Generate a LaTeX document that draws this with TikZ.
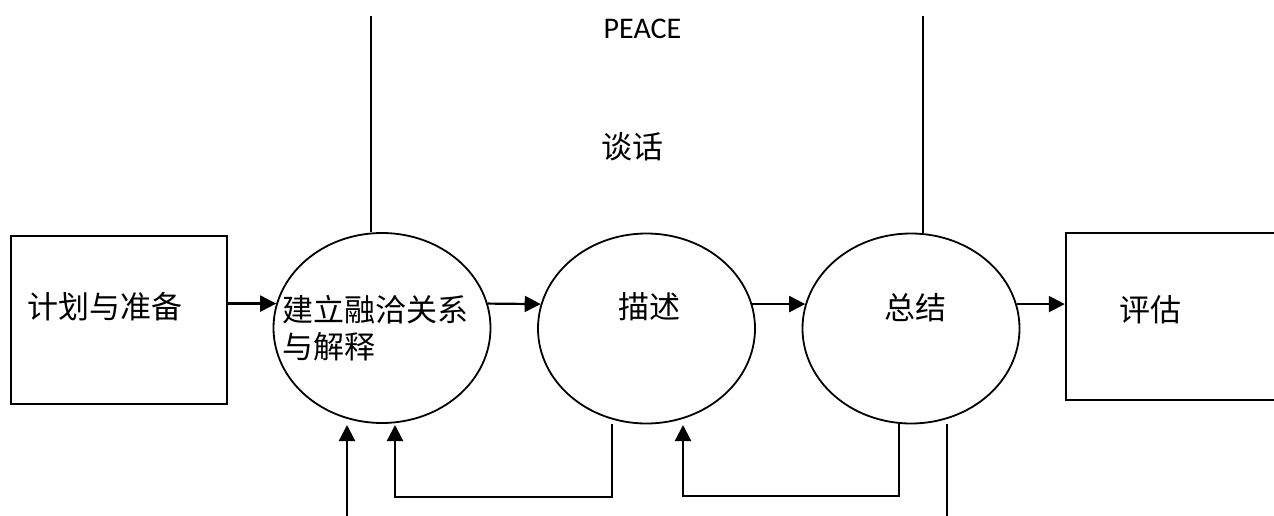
\documentclass[tikz,border=0pt]{standalone}
\usepackage{fontspec}
\setmainfont{Carlito}
\newfontfamily\cjk{Noto Sans CJK SC}
\usetikzlibrary{arrows.meta,shapes.geometric}
\begin{document}
\begin{tikzpicture}[x=1pt,y=-1pt,
  box/.style={draw,line width=2.4pt,minimum height=168pt,inner sep=0pt},
  oval/.style={draw,ellipse,line width=1.8pt,inner sep=0pt,minimum width=217pt,minimum height=190pt},
  lbl/.style={font=\cjk\fontsize{31}{37}\selectfont,inner sep=0pt},
  conn/.style={line width=2.2pt},
  arr/.style={conn,-{Triangle[length=16pt,width=16pt]}}
]
\useasboundingbox (0,0) rectangle (1274,516);
\begin{scope}
\clip (0,0) rectangle (1274,516);
% main nodes
\node[box,minimum width=216pt] (plan) at (119,320) {};
\node[oval] (e1) at (382,328) {};
\node[oval] (e2) at (646.5,328.5) {};
\node[oval] (e3) at (911,328.5) {};
\node[box,minimum width=260pt,minimum height=167pt] (eval) at (1196,316.5) {};
% texts
\node[lbl] (plantxt) at (105,307) {计划与准备};
\node[lbl,align=left,anchor=west] (e1txt) at (282,328.5) {建立融洽关系\\与解释};
\node[lbl] (e2txt) at (649,307) {描述};
\node[lbl] (e3txt) at (915,308) {总结};
\node[lbl] (evtxt) at (1150,310) {评估};
\node[lbl] (talk) at (632,147) {谈话};
\node[font=\fontsize{30}{36}\selectfont,inner sep=0pt] (peace) at (642.5,28.5) {PEACE};
% forward arrows
\draw[arr] (plan.east |- e1.167) -- (e1.167);
\draw[arr] (e1.13) -- (e2.167);
\draw[arr] (e2.13) -- (e3.167);
\draw[arr] (e3.13) -- (e3.13 -| eval.west);
% top lines
\coordinate (t1) at (371,16);
\coordinate (t2) at (923,16);
\draw[conn] (t1) -- (t1 |- e1.north);
\draw[conn] (t2) -- (t2 |- e3.north);
% bottom lines
\coordinate (in1) at (347,516);
\coordinate (in1t) at (347,425);
\draw[arr] (in1) -- (in1t);
\coordinate (f1s) at (612,424);
\coordinate (f1c) at (395,497);
\coordinate (f1t) at (395,425);
\draw[arr] (f1s) |- (f1c) -- (f1t);
\coordinate (f2s) at (899,424);
\coordinate (f2c) at (683,496);
\coordinate (f2t) at (683,425);
\draw[arr] (f2s) |- (f2c) -- (f2t);
\coordinate (o1s) at (947,424);
\coordinate (o1e) at (947,516);
\draw[conn] (o1s) -- (o1e);
\end{scope}
\end{tikzpicture}
\end{document}
